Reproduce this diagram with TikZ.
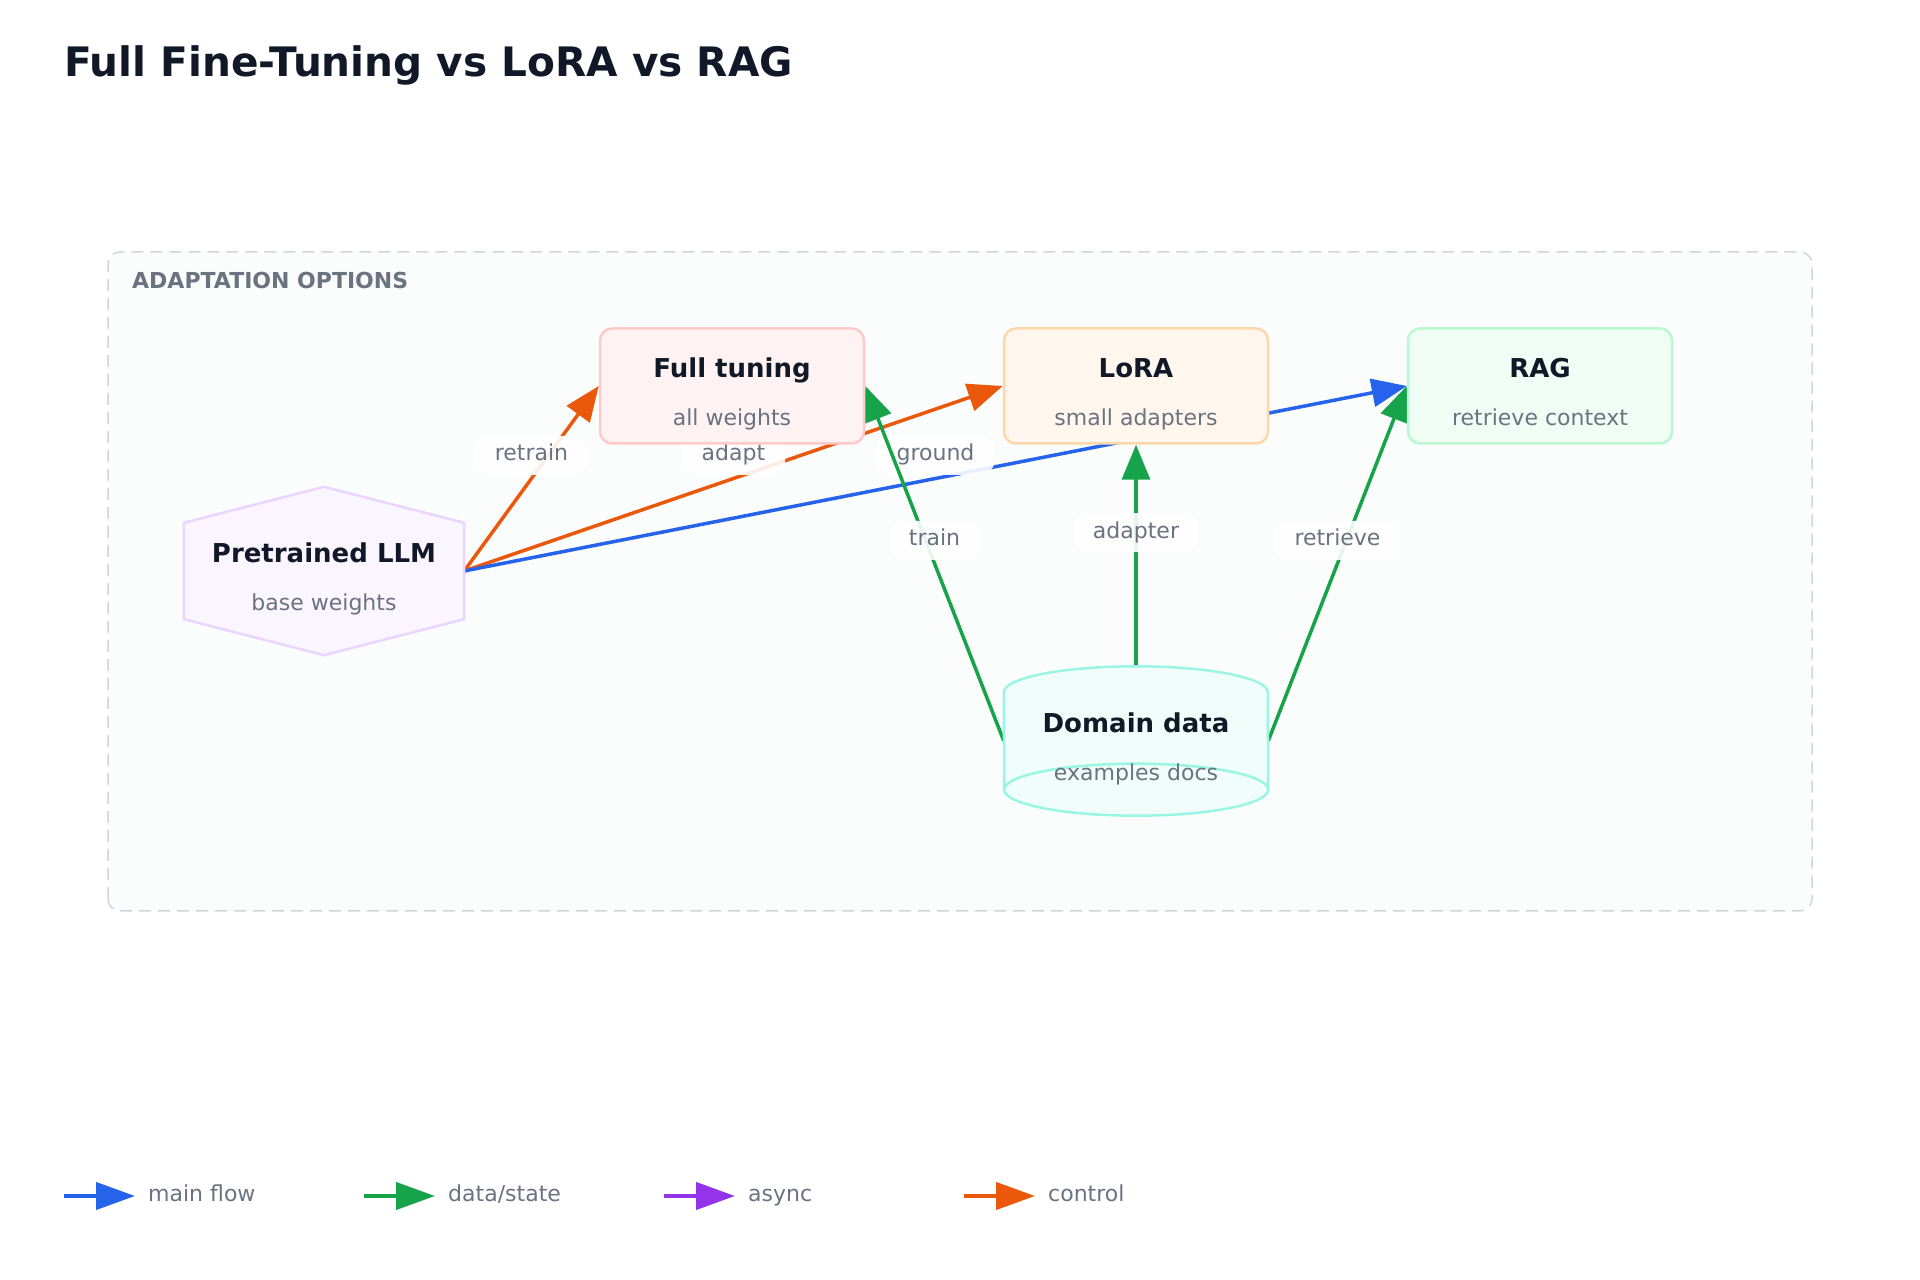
\documentclass[tikz,border=0pt]{standalone}
\usepackage{fontspec}
\setmainfont{DejaVu Sans}
\usetikzlibrary{arrows.meta,positioning}
\definecolor{ink}{HTML}{111827}
\definecolor{muted}{HTML}{6B7280}
\definecolor{flowblue}{HTML}{2563EB}
\definecolor{datagreen}{HTML}{16A34A}
\definecolor{asyncpurple}{HTML}{9333EA}
\definecolor{ctrlorange}{HTML}{EA580C}
\definecolor{groupline}{HTML}{D1D5DB}
\definecolor{groupfill}{HTML}{FBFDFD}
\definecolor{fullfill}{HTML}{FEF2F2}
\definecolor{fullline}{HTML}{FECACA}
\definecolor{lorafill}{HTML}{FFF7ED}
\definecolor{loraline}{HTML}{FED7AA}
\definecolor{ragfill}{HTML}{F0FDF4}
\definecolor{ragline}{HTML}{BBF7D0}
\definecolor{llmfill}{HTML}{FAF5FF}
\definecolor{llmline}{HTML}{E9D5FF}
\definecolor{datafill}{HTML}{F0FDFA}
\definecolor{dataline}{HTML}{99F6E4}
\pgfdeclarelayer{back}
\pgfdeclarelayer{wires}
\pgfsetlayers{back,wires,main}
\begin{document}
\begin{tikzpicture}[x=1pt,y=1pt,
    card/.style={draw=#1, line width=2.5pt, rounded corners=12pt,
        minimum width=264pt, minimum height=115pt, inner sep=0pt},
    ttl/.style={font=\fontsize{26}{30}\selectfont\bfseries, text=ink, anchor=base},
    sub/.style={font=\fontsize{22}{26}\selectfont, text=muted, anchor=base},
    flow/.style={line width=3.5pt, -{Triangle[length=35pt,width=28pt]}},
    tag/.style={fill=white, fill opacity=0.9, text opacity=1, rounded corners=14pt,
        font=\fontsize{22}{26}\selectfont, text=muted, inner xsep=20pt,
        text height=16pt, text depth=5pt, inner ysep=9pt}
]
\useasboundingbox (0,0) rectangle (1920,1280);
\begin{pgfonlayer}{back}
    \fill[white] (0,0) rectangle (1920,1280);
    \draw[groupline, fill=groupfill, line width=1.5pt, dash pattern=on 12pt off 7pt,
        rounded corners=12pt] (108,369) rectangle (1812,1028);
\end{pgfonlayer}

% title and group label
\node[anchor=base west, inner sep=0pt, font=\fontsize{40.6}{48}\selectfont\bfseries, text=ink]
    (title) at (64,1203) {Full Fine-Tuning vs LoRA vs RAG};
\node[anchor=west, inner sep=0pt, font=\fontsize{22}{26}\selectfont\bfseries, text=muted]
    (grouplbl) at (132,999) {ADAPTATION OPTIONS};

% the three options
\node[card=fullline, fill=fullfill] (full) at (732,894) {};
\node[ttl] at ([yshift=8pt]full.center) {Full tuning};
\node[sub] at ([yshift=-40pt]full.center) {all weights};

\node[card=loraline, fill=lorafill] (lora) at (1136,894) {};
\node[ttl] at ([yshift=8pt]lora.center) {LoRA};
\node[sub] at ([yshift=-40pt]lora.center) {small adapters};

\node[card=ragline, fill=ragfill] (rag) at (1540,894) {};
\node[ttl] at ([yshift=8pt]rag.center) {RAG};
\node[sub] at ([yshift=-40pt]rag.center) {retrieve context};

% pretrained model (hexagon)
\node[minimum width=280pt, minimum height=168pt, inner sep=0pt] (llm) at (324,709) {};
\draw[llmline, fill=llmfill, line width=2.5pt]
    (llm.north) -- ([yshift=-36pt]llm.north east) -- ([yshift=36pt]llm.south east)
    -- (llm.south) -- ([yshift=36pt]llm.south west) -- ([yshift=-36pt]llm.north west) -- cycle;
\node[ttl] at ([yshift=8pt]llm.center) {Pretrained LLM};
\node[sub] at ([yshift=-40pt]llm.center) {base weights};

% domain data (cylinder)
\node[minimum width=264pt, minimum height=149pt, inner sep=0pt] (data) at (1136,539) {};
\draw[dataline, fill=datafill, line width=2.5pt]
    ([yshift=-26pt]data.north west) arc[start angle=180, end angle=0, x radius=132pt, y radius=26pt]
    -- ([yshift=26pt]data.south east) arc[start angle=0, end angle=-180, x radius=132pt, y radius=26pt]
    -- cycle;
\draw[dataline, line width=2.5pt]
    ([yshift=26pt]data.south east) arc[start angle=0, end angle=180, x radius=132pt, y radius=26pt];
\node[ttl] at ([yshift=8pt]data.center) {Domain data};
\node[sub] at ([yshift=-40pt]data.center) {examples docs};

% connectors
\begin{pgfonlayer}{wires}
    \draw[flow, ctrlorange] (llm.east) -- (full.west) node[tag, midway, yshift=23pt] {retrain};
    \draw[flow, ctrlorange] (llm.east) -- (lora.west) node[tag, midway, yshift=23pt] {adapt};
    \draw[flow, flowblue] (llm.east) -- (rag.west) node[tag, midway, yshift=23pt] {ground};
    \draw[flow, datagreen] (data.west) -- (full.east) node[tag, midway, yshift=23pt] {train};
    \draw[flow, datagreen] (data.north) -- (lora.south) node[tag, midway, yshift=23pt] {adapter};
    \draw[flow, datagreen] (data.east) -- (rag.west) node[tag, midway, yshift=23pt] {retrieve};
\end{pgfonlayer}

% legend
\foreach \c/\t [count=\i from 0] in {flowblue/main flow, datagreen/{data/state},
        asyncpurple/async, ctrlorange/control} {
    \coordinate (key\i) at (64+300*\i,84);
    \draw[\c, line width=4pt, -{Triangle[length=39pt,width=27pt]}]
        (key\i) -- ++(71,0) coordinate (keyend\i);
    \node[sub, anchor=west, inner sep=0pt, text height=16pt, text depth=5pt]
        (keytxt\i) at ([xshift=13pt]keyend\i) {\t};
}
\end{tikzpicture}
\end{document}
